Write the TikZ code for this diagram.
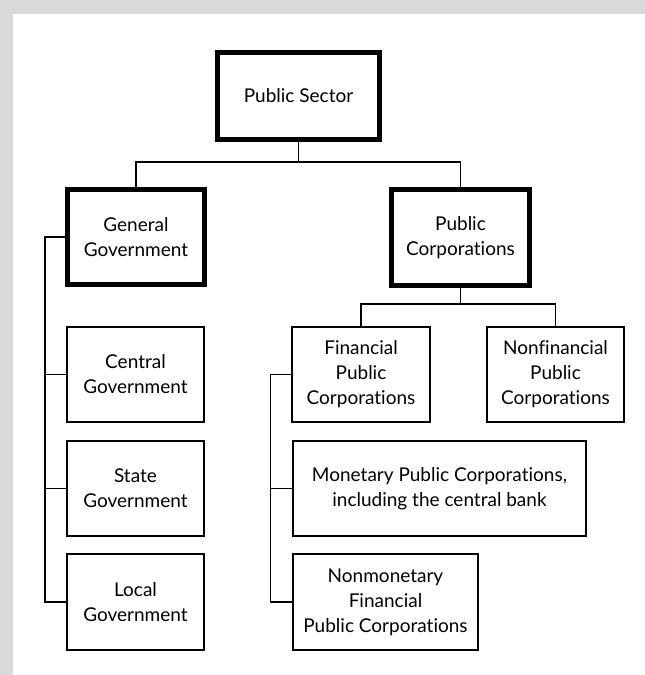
\documentclass[tikz,border=0pt]{standalone}
\usepackage{fontspec}
\setmainfont{Lato}[Ligatures=NoCommon]
\usepackage{xcolor}
\usepackage{tikz}

\definecolor{framegray}{HTML}{D9D9D9}

\begin{document}
\begin{tikzpicture}[x=1pt, y=-1pt,
    unit/.style={rectangle, draw, line width=1.2pt, align=center, inner sep=0pt,
      font=\fontsize{19}{25}\selectfont},
    mainunit/.style={unit, line width=5pt},
    link/.style={line width=1.2pt}]

    % Background
    \fill[framegray] (0,0) rectangle (645,675);
    \fill[white] (13,14) rectangle (645,675);
    \useasboundingbox (0,0) rectangle (645,675);

    % Top level
    \node[mainunit, minimum width=162pt, minimum height=87pt] (sector) at (298.5,96) {Public Sector};

    % Second level
    \node[mainunit, minimum width=137pt, minimum height=95pt] (general) at (136,237) {General\\Government};
    \node[mainunit, minimum width=138pt, minimum height=96pt] (pubcorp) at (460.5,237.5) {Public\\Corporations};

    % General government
    \node[unit, minimum width=137pt, minimum height=95pt] (central) at (135.5,374.5) {Central\\Government};
    \node[unit, minimum width=137pt, minimum height=95pt] (state) at (135.5,488.5) {State\\Government};
    \node[unit, minimum width=137pt, minimum height=96pt] (local) at (135.5,602) {Local\\Government};

    % Public corporations
    \node[unit, minimum width=138pt, minimum height=95pt] (financial) at (361,374.5) {Financial\\Public\\Corporations};
    \node[unit, minimum width=137pt, minimum height=95pt] (nonfin) at (555.5,374.5) {Nonfinancial\\Public\\Corporations};
    \node[unit, minimum width=293pt, minimum height=95pt] (monetary) at (439.5,488.5) {Monetary Public Corporations,\\including the central bank};
    \node[unit, minimum width=185pt, minimum height=96pt] (nonmon) at (385.5,602) {Nonmonetary\\Financial\\Public Corporations};

    \draw[link] (sector.south) -- ++(0,20) -| (general.north);
    \draw[link] (sector.south) -- ++(0,20) -| (pubcorp.north);
    \draw[link] (pubcorp.south) -- ++(0,16) -| (financial.north);
    \draw[link] (pubcorp.south) -- ++(0,16) -| (nonfin.north);
    \draw[link] (general.west) -- ++(-20,0) |- (central.west);
    \draw[link] (general.west) -- ++(-20,0) |- (state.west);
    \draw[link] (general.west) -- ++(-20,0) |- (local.west);
    \draw[link] (financial.west) -- ++(-21,0) |- (monetary.west);
    \draw[link] (financial.west) -- ++(-21,0) |- (nonmon.west);
\end{tikzpicture}
\end{document}
